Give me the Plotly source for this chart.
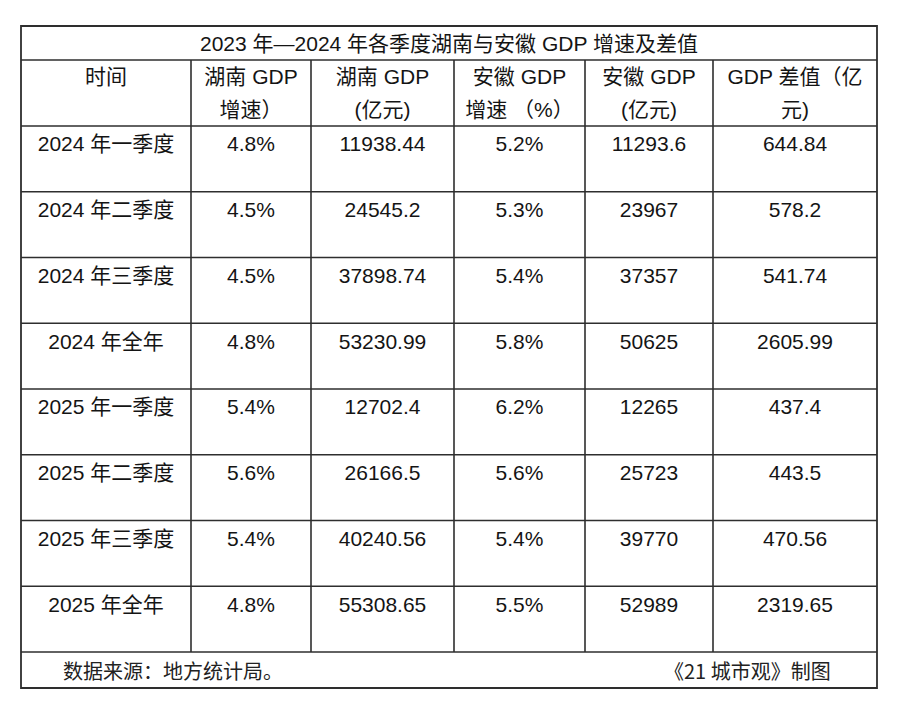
import plotly.graph_objects as go

TITLE = '2023 年—2024 年各季度湖南与安徽 GDP 增速及差值'

header_top = ['时间', '湖南 GDP', '湖南 GDP', '安徽 GDP', '安徽 GDP', 'GDP 差值（亿']
header_bottom = ['', '增速）', '(亿元)', '增速 （%）', '(亿元)', '元)']

periods = ['2024 年一季度', '2024 年二季度', '2024 年三季度', '2024 年全年',
           '2025 年一季度', '2025 年二季度', '2025 年三季度', '2025 年全年']
hunan_growth = [4.8, 4.5, 4.5, 4.8, 5.4, 5.6, 5.4, 4.8]
hunan_gdp = [11938.44, 24545.2, 37898.74, 53230.99, 12702.4, 26166.5, 40240.56, 55308.65]
anhui_growth = [5.2, 5.3, 5.4, 5.8, 6.2, 5.6, 5.4, 5.5]
anhui_gdp = [11293.6, 23967, 37357, 50625, 12265, 25723, 39770, 52989]
gdp_gap = [644.84, 578.2, 541.74, 2605.99, 437.4, 443.5, 470.56, 2319.65]

source_note = '数据来源：地方统计局。'
credit_note = '《21 城市观》制图'

# table geometry in screen pixels (y grows downward)
col_edges = [21, 191, 311, 454, 585, 713, 877]
title_top, title_bottom = 26, 60
header_bottom_y = 126
row_h = 65.75
footer_bottom = 688

# the page body has an 8px margin, so the figure is shrunk and the axes shifted
PAGE_PAD = 8
W, H = 900, 705

FONT = 'Liberation Sans, Arial, Noto Sans CJK SC, sans-serif'
INK = '#141414'
LINE = '#2e2e2e'
FS = 21


def fmt_num(v):
    if isinstance(v, int):
        return str(v)
    return repr(v)


def fmt_pct(v):
    return fmt_num(v) + '%'


columns = [
    periods,
    [fmt_pct(v) for v in hunan_growth],
    [fmt_num(v) for v in hunan_gdp],
    [fmt_pct(v) for v in anhui_growth],
    [fmt_num(v) for v in anhui_gdp],
    [fmt_num(v) for v in gdp_gap],
]

n_rows = len(periods)
row_tops = [header_bottom_y + i * row_h for i in range(n_rows)]
table_bottom = header_bottom_y + n_rows * row_h
col_centers = [(a + b) / 2 for a, b in zip(col_edges[:-1], col_edges[1:])]

fig = go.Figure()

# cell values, one text trace per column
for ci, vals in enumerate(columns):
    fig.add_trace(go.Scatter(
        x=[col_centers[ci]] * n_rows,
        y=[t + 20 for t in row_tops],
        mode='text', text=vals, textposition='middle center',
        textfont=dict(family=FONT, size=FS, color=INK),
        hoverinfo='skip', showlegend=False))

# header cells (two lines each)
fig.add_trace(go.Scatter(
    x=col_centers, y=[79] * len(header_top), mode='text', text=header_top,
    textposition='middle center', textfont=dict(family=FONT, size=FS, color=INK),
    hoverinfo='skip', showlegend=False))
fig.add_trace(go.Scatter(
    x=col_centers, y=[112] * len(header_bottom), mode='text', text=header_bottom,
    textposition='middle center', textfont=dict(family=FONT, size=FS, color=INK),
    hoverinfo='skip', showlegend=False))

annotations = [
    dict(x=(col_edges[0] + col_edges[-1]) / 2, y=(title_top + title_bottom) / 2,
         text=TITLE, showarrow=False, xanchor='center', yanchor='middle',
         font=dict(family=FONT, size=FS, color=INK)),
    dict(x=61, y=(table_bottom + footer_bottom) / 2, text=source_note,
         showarrow=False, xanchor='left', yanchor='middle',
         font=dict(family='Noto Sans CJK SC, sans-serif', size=20, color='#222')),
    dict(x=833, y=(table_bottom + footer_bottom) / 2, text=credit_note,
         showarrow=False, xanchor='right', yanchor='middle',
         font=dict(family='Noto Sans CJK SC, sans-serif', size=20, color='#222')),
]

shapes = []
line = dict(color=LINE, width=1.6)
# outer frame
shapes.append(dict(type='rect', x0=col_edges[0], x1=col_edges[-1], y0=title_top,
                   y1=footer_bottom, line=dict(color=LINE, width=1.8)))
# horizontal rules
for y in [title_bottom, header_bottom_y] + [t + row_h for t in row_tops]:
    shapes.append(dict(type='line', x0=col_edges[0], x1=col_edges[-1], y0=y, y1=y, line=line))
# vertical rules inside the body
for x in col_edges[1:-1]:
    shapes.append(dict(type='line', x0=x, x1=x, y0=title_bottom, y1=table_bottom, line=line))

fig.update_layout(
    width=W - PAGE_PAD, height=H - PAGE_PAD,
    margin=dict(l=0, r=0, t=0, b=0),
    paper_bgcolor='white', plot_bgcolor='white',
    xaxis=dict(range=[PAGE_PAD, W], visible=False, fixedrange=True),
    yaxis=dict(range=[H, PAGE_PAD], visible=False, fixedrange=True),
    shapes=shapes, annotations=annotations,
)

fig.write_html('out.html')
